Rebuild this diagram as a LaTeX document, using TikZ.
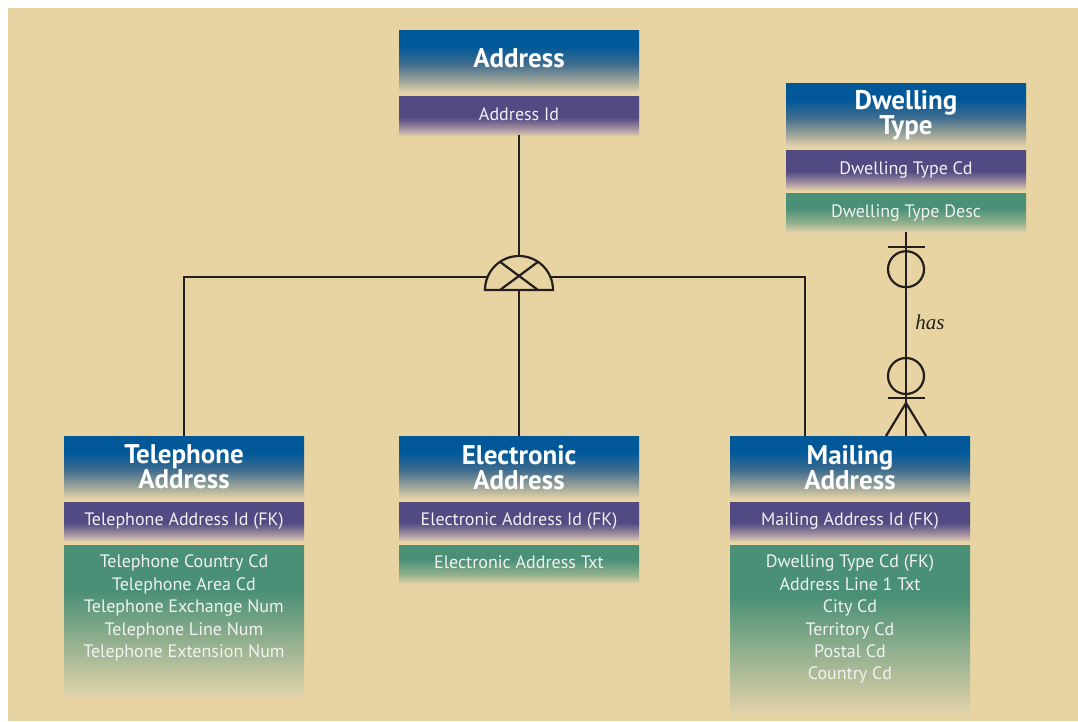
\documentclass[tikz,border=0pt]{standalone}
\usepackage{fontspec}
\setmainfont{PT Sans}
\newfontfamily\hasfont{Liberation Serif}
\usetikzlibrary{positioning}
\definecolor{bgBeige}{RGB}{232, 211, 162}
\definecolor{fadeBeige}{RGB}{226, 211, 170}
\definecolor{hdrBlue}{RGB}{0, 88, 153}
\definecolor{hdrMid}{RGB}{62, 108, 142}
\definecolor{hdrLow}{RGB}{160, 166, 154}
\definecolor{keyPurple}{RGB}{82, 74, 130}
\definecolor{keyLow}{RGB}{160, 142, 160}
\definecolor{keyFadeBot}{RGB}{216, 198, 174}
\definecolor{attrGreen}{RGB}{74, 144, 118}
\definecolor{attrLow}{RGB}{150, 178, 142}
\definecolor{lineInk}{RGB}{35, 31, 28}
\definecolor{attrText}{RGB}{242, 242, 242}

% shadings: 25bp = bottom of the box, 75bp = top of the box
\pgfdeclareverticalshading{hdrFade}{100bp}{color(0bp)=(fadeBeige); color(25bp)=(fadeBeige); color(34bp)=(hdrLow); color(48bp)=(hdrMid); color(62bp)=(hdrBlue); color(100bp)=(hdrBlue)}
\pgfdeclareverticalshading{keyFade}{100bp}{color(0bp)=(keyFadeBot); color(25bp)=(keyFadeBot); color(34bp)=(keyLow); color(48bp)=(keyPurple); color(100bp)=(keyPurple)}
\pgfdeclareverticalshading{attrFade}{100bp}{color(0bp)=(fadeBeige); color(25bp)=(fadeBeige); color(36bp)=(attrLow); color(56bp)=(attrGreen); color(100bp)=(attrGreen)}
\pgfdeclareverticalshading{listFade}{100bp}{color(0bp)=(fadeBeige); color(25bp)=(fadeBeige); color(60bp)=(attrGreen); color(100bp)=(attrGreen)}

\begin{document}
\begin{tikzpicture}[x=1pt, y=-1pt]

  \tikzset{
    entHead/.style={shade, shading=hdrFade, minimum width=240, minimum height=62,
      inner sep=0, anchor=north, align=center, text=white,
      font=\fontsize{27}{25}\selectfont\bfseries},
    entKey/.style={shade, shading=keyFade, minimum width=240, minimum height=38.5,
      inner sep=0, text=attrText, text height=12.5pt, text depth=4pt,
      font=\fontsize{18}{22}\selectfont},
    entAttr/.style={shade, shading=attrFade, minimum width=240, minimum height=38.5,
      inner sep=0, text=attrText, text height=12.5pt, text depth=4pt,
      font=\fontsize{18}{22}\selectfont},
    entList/.style={shade, shading=listFade, minimum width=240, inner sep=0},
    listText/.style={anchor=north, align=center, inner sep=0, text=attrText,
      font=\fontsize{18}{22.4}\selectfont},
    link/.style={draw=lineInk, line width=2.2pt},
    hasLabel/.style={font=\hasfont\itshape\fontsize{21}{21}\selectfont, text=lineInk}
  }

  % canvas
  \useasboundingbox (0,0) rectangle (1078,721);
  \fill[bgBeige] (8,8) rectangle (1078,721);

  % --- Address (supertype) ---
  \node[entHead, text height=20pt, text depth=8pt] (addrHead) at (519,30) {Address};
  \node[entKey, below=4pt of addrHead] (addrKey) {Address Id};

  % --- Dwelling Type ---
  \node[entHead, minimum height=63] (dwellHead) at (906,83) {Dwelling\\Type};
  \node[entKey, below=4pt of dwellHead] (dwellKey) {Dwelling Type Cd};
  \node[entAttr, below=4pt of dwellKey] (dwellAttr) {Dwelling Type Desc};

  % --- Telephone Address ---
  \node[entHead] (telHead) at (184,436) {Telephone\\Address};
  \node[entKey, below=3.5pt of telHead] (telKey) {Telephone Address Id (FK)};
  \node[entList, minimum height=152, below=4pt of telKey] (telAttr) {};
  \node[listText] (telAttrTxt) at ([yshift=-10pt]telAttr.north)
    {Telephone Country Cd\\Telephone Area Cd\\Telephone Exchange Num\\Telephone Line Num\\Telephone Extension Num};

  % --- Electronic Address ---
  \node[entHead] (elecHead) at (519,436) {Electronic\\Address};
  \node[entKey, below=3.5pt of elecHead] (elecKey) {Electronic Address Id (FK)};
  \node[entAttr, below=4pt of elecKey] (elecAttr) {Electronic Address Txt};

  % --- Mailing Address ---
  \node[entHead] (mailHead) at (850,436) {Mailing\\Address};
  \node[entKey, below=3.5pt of mailHead] (mailKey) {Mailing Address Id (FK)};
  \node[entList, minimum height=169, below=4pt of mailKey] (mailAttr) {};
  \node[listText] (mailAttrTxt) at ([yshift=-10pt]mailAttr.north)
    {Dwelling Type Cd (FK)\\Address Line 1 Txt\\City Cd\\Territory Cd\\Postal Cd\\Country Cd};

  % subtype symbol (exclusive)
  \coordinate (subC) at (519,290);
  \coordinate (subL) at (488,277);
  \coordinate (subR) at (550,277);
  \draw[link] ([xshift=-34pt]subC) arc[start angle=180, end angle=360, radius=34] -- cycle;
  \draw[link] ([shift={(236:34)}]subC) -- ([shift={(19,0)}]subC);
  \draw[link] ([shift={(304:34)}]subC) -- ([shift={(-19,0)}]subC);

  % subtype connectors
  \draw[link] (addrKey.south) -- ([yshift=34pt]subC);
  \draw[link] (subL) -| (telHead.north);
  \draw[link] (subC) -- (elecHead.north);
  \draw[link] (subR) -| ([xshift=-45pt]mailHead.north);

  % relationship Dwelling Type -- Mailing Address
  \coordinate (hasTop) at (dwellAttr.south);
  \coordinate (hasBot) at (dwellAttr.south |- mailHead.north);
  \draw[link] (hasTop) -- (hasBot);
  \draw[link] ([shift={(-18.5,15)}]hasTop) -- ++(37,0);
  \draw[link] ([shift={(0,37)}]hasTop) circle[radius=18];
  \draw[link] ([shift={(0,-60)}]hasBot) circle[radius=18];
  \draw[link] ([shift={(-18.5,-38)}]hasBot) -- ++(37,0);
  \draw[link] ([shift={(-20,0)}]hasBot) -- ([shift={(0,-33)}]hasBot) -- ([shift={(20,0)}]hasBot);
  \node[hasLabel] (hasTxt) at ([shift={(24,90)}]hasTop) {has};

\end{tikzpicture}
\end{document}
